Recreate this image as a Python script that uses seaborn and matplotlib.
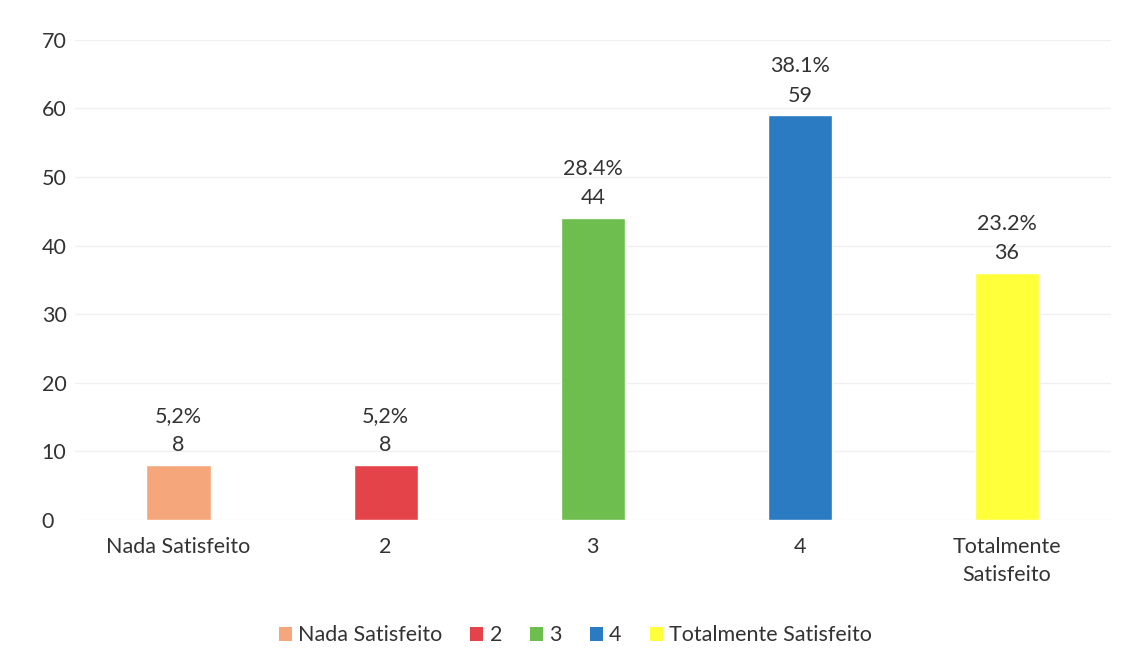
import matplotlib
matplotlib.use("Agg")
import matplotlib.pyplot as plt
import seaborn as sns
import pandas as pd
from matplotlib.patches import Patch

categories = ["Nada Satisfeito", "2", "3", "4", "Totalmente Satisfeito"]
tick_labels = ["Nada Satisfeito", "2", "3", "4", "Totalmente\nSatisfeito"]
counts = [8, 8, 44, 59, 36]
percent_labels = ["5,2%", "5,2%", "28.4%", "38.1%", "23.2%"]
colors = ["#F5A77B", "#E5434A", "#6DBE4E", "#2B7BC2", "#FFFF3A"]

sns.set_theme(style="white")
plt.rcParams["font.family"] = ["Lato", "DejaVu Sans"]

df = pd.DataFrame({"cat": categories, "n": counts})
FS = 15.5

fig = plt.figure(figsize=(11.28, 6.64), dpi=100)
ax = fig.add_axes([0.0665, 0.217, 0.918, 0.723])
sns.barplot(data=df, x="cat", y="n", hue="cat", order=categories,
            hue_order=categories, palette=colors, dodge=False,
            width=0.31, legend=False, ax=ax, saturation=1)

ax.set_ylim(0, 70)
ax.set_xlim(-0.5, 4.5)
ax.set_yticks(range(0, 71, 10))
ax.yaxis.grid(True, color="#F0F0F0", linewidth=1)
ax.set_axisbelow(True)
for s in ax.spines.values():
    s.set_visible(False)
ax.set_xlabel("")
ax.set_ylabel("")
ax.set_xticks(range(len(categories)))
ax.set_xticklabels(tick_labels, fontsize=FS, color="#333333", linespacing=1.55)
ax.tick_params(axis="y", labelsize=FS, labelcolor="#333333", length=0)
ax.tick_params(axis="x", length=0, pad=12)
for lab in ax.get_yticklabels():
    lab.set_horizontalalignment("left")
ax.yaxis.set_tick_params(pad=42 - 18)

for i, (c, p) in enumerate(zip(counts, percent_labels)):
    ax.annotate(f"{p}\n{c}", xy=(i, c), xytext=(0, 7), textcoords="offset points",
                ha="center", va="bottom", fontsize=FS, color="#333333",
                linespacing=1.6)

handles = [Patch(facecolor=col, edgecolor="none") for col in colors]
fig.legend(handles, categories, loc="center", bbox_to_anchor=(0.51, 0.043),
           ncol=5, frameon=False, fontsize=FS, handlelength=0.6,
           handleheight=0.6, handletextpad=0.3, columnspacing=1.3,
           labelcolor="#333333")

fig.savefig("out.png", dpi=100, facecolor="white")
